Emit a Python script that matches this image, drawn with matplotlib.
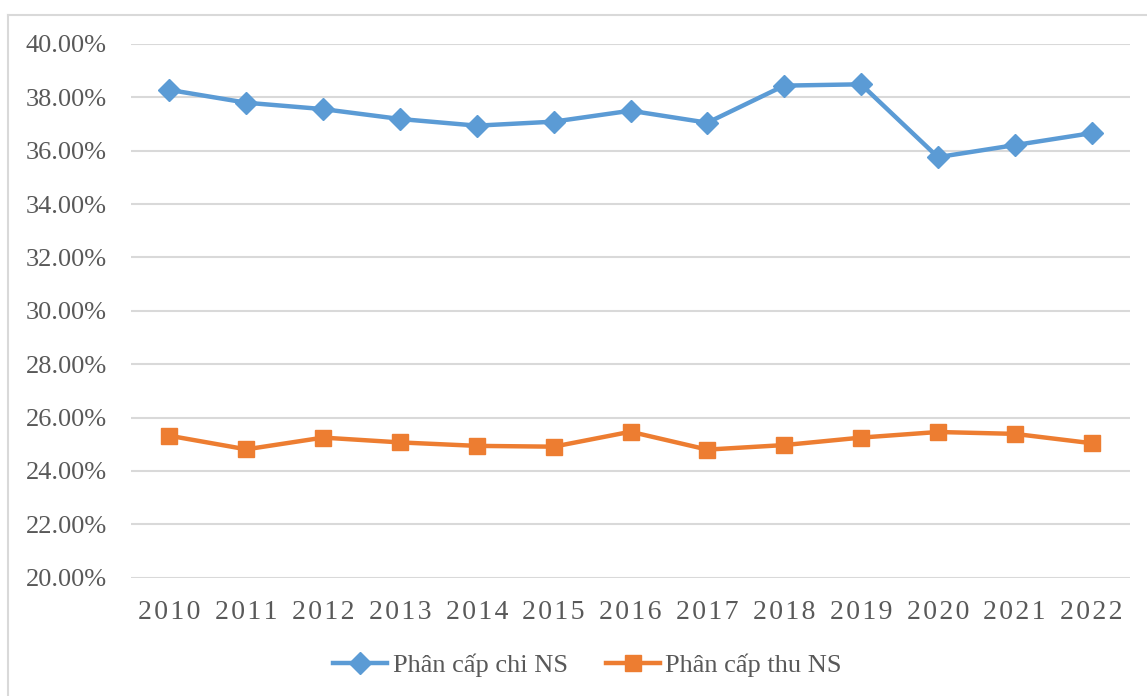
import matplotlib.pyplot as plt
from matplotlib.lines import Line2D
from matplotlib.ticker import FuncFormatter

years = ['2010', '2011', '2012', '2013', '2014', '2015', '2016',
         '2017', '2018', '2019', '2020', '2021', '2022']
chi_ns = [38.28, 37.80, 37.56, 37.19, 36.94, 37.09, 37.50,
          37.05, 38.44, 38.49, 35.76, 36.21, 36.66]
thu_ns = [25.32, 24.81, 25.25, 25.07, 24.94, 24.91, 25.47,
          24.80, 24.97, 25.25, 25.46, 25.39, 25.04]

BLUE = '#5B9BD5'
ORANGE = '#ED7D31'
TEXT = '#595959'
GRID = '#D9D9D9'


def main():
    plt.rcParams['font.family'] = ['Liberation Serif', 'DejaVu Serif']
    fig = plt.figure(figsize=(11.47, 6.96), dpi=100)
    ax = fig.add_axes([131 / 1147, 1 - 577.7 / 696, (1130 - 131) / 1147, (577.7 - 44) / 696])

    x = list(range(len(years)))
    ax.plot(x, chi_ns, color=BLUE, lw=3.2, marker='D', ms=11, label='Phân cấp chi NS')
    ax.plot(x, thu_ns, color=ORANGE, lw=3.2, marker='s', ms=12, label='Phân cấp thu NS')

    ax.set_xlim(-0.5, len(years) - 0.5)
    ax.set_ylim(20, 40)
    ax.set_yticks(range(20, 41, 2))
    ax.yaxis.set_major_formatter(FuncFormatter(lambda v, p: f'{v:.2f}%'))
    ax.set_xticks(x)
    # spaced-out year labels
    ax.set_xticklabels(['\u200a'.join(y) for y in years])
    ax.tick_params(axis='both', length=0, colors=TEXT, labelsize=19)
    ax.tick_params(axis='x', labelsize=20, pad=16)
    ax.tick_params(axis='y', pad=17.5)
    ax.grid(True, axis='y', color=GRID, lw=1.5)
    ax.set_axisbelow(True)
    for s in ax.spines.values():
        s.set_visible(False)

    # chart frame (left and top edges)
    fig.add_artist(Line2D([8 / 1147, 8 / 1147], [0, 1 - 15 / 696], color=GRID, lw=1.5))
    fig.add_artist(Line2D([8 / 1147, 1], [1 - 15 / 696, 1 - 15 / 696], color=GRID, lw=1.5))

    fig.legend(loc='center', bbox_to_anchor=(587.5 / 1147, 1 - 665 / 696), ncol=2, frameon=False,
               fontsize=19, labelcolor=TEXT, handlelength=2.05, handletextpad=0.2,
               columnspacing=1.45)

    fig.savefig('out.png', dpi=100)


if __name__ == '__main__':
    main()
